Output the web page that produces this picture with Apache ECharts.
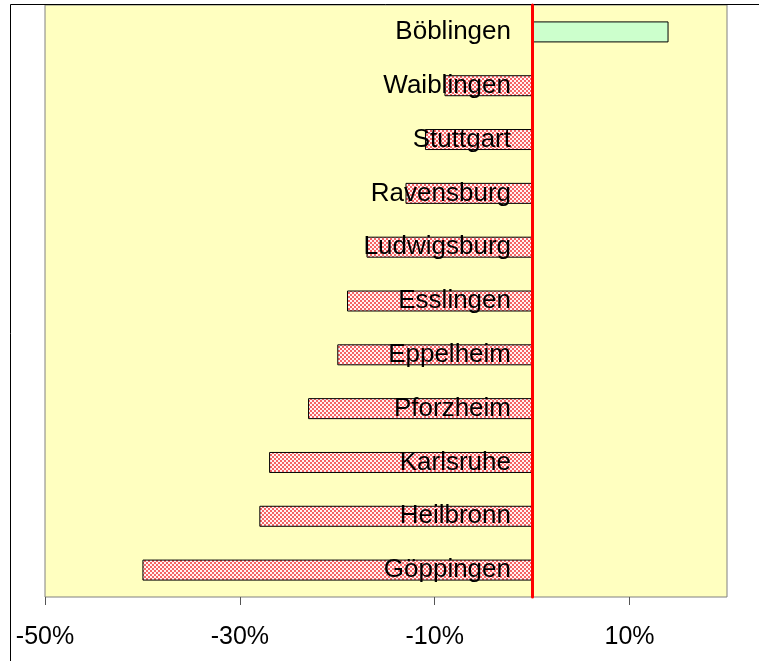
<!DOCTYPE html>
<html>
<head>
<meta charset="utf-8">
<script src="https://cdn.jsdelivr.net/npm/echarts@6/dist/echarts.min.js"></script>
<style>
  html, body { margin: 0; padding: 0; background: #fff; }
  #chart { width: 759px; height: 661px; }
</style>
</head>
<body>
<div id="chart"></div>
<script>
// Städte von oben nach unten
const cities = ['Böblingen', 'Waiblingen', 'Stuttgart', 'Ravensburg', 'Ludwigsburg',
  'Esslingen', 'Eppelheim', 'Pforzheim', 'Karlsruhe', 'Heilbronn', 'Göppingen'];
// Veränderung in Prozent
const changes = [14, -9, -11, -13, -17, -19, -20, -23, -27, -28, -40];
const tickValues = [-50, -30, -10, 10];

// kariertes Muster für negative Balken
function makePattern() {
  const c = document.createElement('canvas');
  c.width = 4;
  c.height = 4;
  const ctx = c.getContext('2d');
  ctx.fillStyle = '#fff4f4';
  ctx.fillRect(0, 0, 4, 4);
  ctx.fillStyle = '#f56464';
  ctx.fillRect(0, 0, 2, 2);
  ctx.fillRect(2, 2, 2, 2);
  return c;
}
const pattern = { image: makePattern(), repeat: 'repeat' };

const myChart = echarts.init(document.getElementById('chart'));
const font = 'Arial, "Liberation Sans", sans-serif';

const option = {
  animation: false,
  textStyle: { fontFamily: font },
  grid: {
    left: 45,
    right: 32,
    top: 5,
    bottom: 64,
    containLabel: false,
    outerBoundsMode: 'none',
    show: true,
    backgroundColor: '#ffffc0',
    borderColor: '#808080',
    borderWidth: 1
  },
  graphic: [{
    type: 'rect',
    silent: true,
    shape: { x: 10.5, y: 4.5, width: 800, height: 700 },
    style: { fill: null, stroke: '#000', lineWidth: 1 }
  }],
  xAxis: {
    type: 'value',
    min: -50,
    max: 20,
    splitLine: { show: false },
    axisLine: { onZero: false, lineStyle: { color: '#000', width: 1 } },
    axisTick: {
      show: true,
      customValues: tickValues,
      length: 8,
      lineStyle: { color: '#555' }
    },
    axisLabel: {
      customValues: tickValues,
      formatter: '{value}%',
      color: '#000',
      fontSize: 25,
      fontFamily: font,
      margin: 28
    }
  },
  yAxis: {
    type: 'category',
    inverse: true,
    data: cities,
    z: 5,
    axisLine: { onZero: true, lineStyle: { color: '#ff0000', width: 3 } },
    axisTick: { show: false },
    axisLabel: {
      color: '#000',
      fontSize: 26,
      fontFamily: font,
      // Beschriftung sitzt links neben der Nulllinie
      margin: -466
    }
  },
  series: [{
    type: 'bar',
    data: changes.map(v => ({
      value: v,
      itemStyle: { color: v >= 0 ? '#ccffcc' : pattern }
    })),
    barWidth: 21,
    itemStyle: {
      borderColor: '#000',
      borderWidth: 1
    }
  }]
};

myChart.setOption(option);
</script>
</body>
</html>
